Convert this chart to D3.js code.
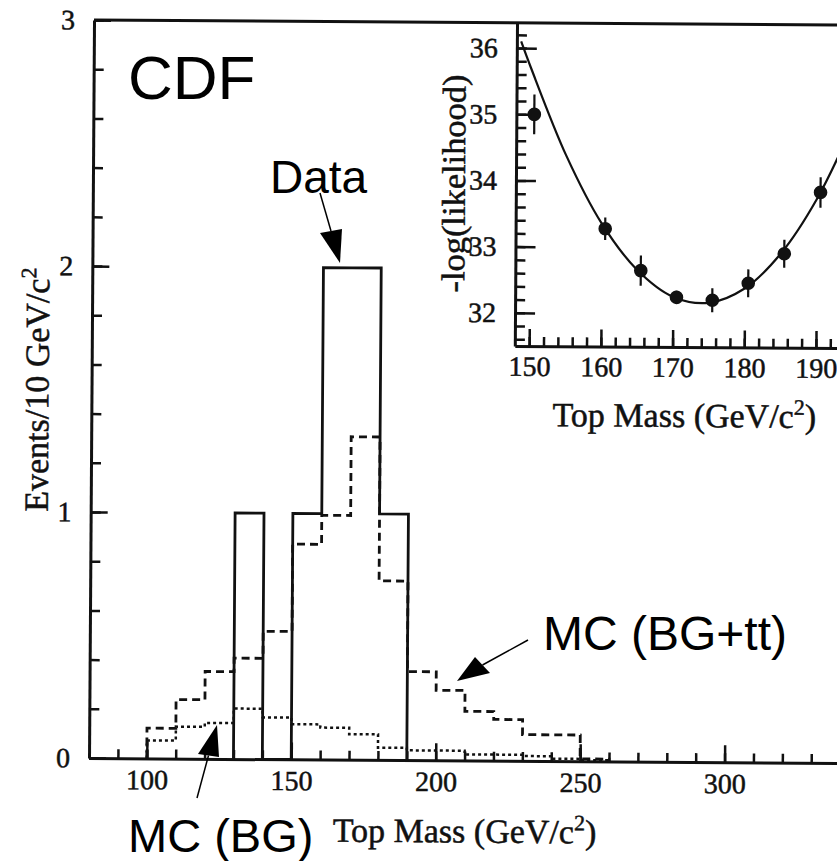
<!DOCTYPE html>
<html lang="en">
<head>
<meta charset="UTF-8">
<title>CDF Top Mass</title>
<script src="https://d3js.org/d3.v7.min.js"></script>
<style>
  body { margin: 0; background: #fff; }
  svg { display: block; }
  .scan text { stroke: #111; stroke-width: 0.5px; }
</style>
</head>
<body>
<div id="chart"></div>
<script>
// main histogram, 10 GeV/c^2 bins (lower bin edges)
const mcBins  = [100, 110, 120, 130, 140, 150, 160, 170, 180, 190, 200, 210, 220, 230, 240, 250];
const mcTotal = [0.123, 0.24, 0.355, 0.41, 0.52, 0.875, 0.993, 1.313, 0.728, 0.36, 0.285, 0.2, 0.168, 0.107, 0.107, 0.01];
const mcBG    = [0.073, 0.13, 0.146, 0.205, 0.17, 0.143, 0.13, 0.104, 0.05, 0.04, 0.04, 0.025, 0.025, 0.02, 0.01, 0.005];
const dataBins   = [130, 140, 150, 160, 170, 180];
const dataCounts = [1, 0, 1, 2, 2, 1];
const mainXTicks = [100, 150, 200, 250, 300];
const mainYTicks = [0, 1, 2, 3];

// inset: -log(likelihood) vs top mass
const insetMass = [150.5, 160.5, 165.5, 170.5, 175.5, 180.5, 185.5, 190.5];
const insetNll  = [35.0, 33.28, 32.65, 32.25, 32.21, 32.47, 32.92, 33.85];
const insetErr  = [0.3, 0.17, 0.23, 0.1, 0.18, 0.21, 0.21, 0.23];
const fitMass = [148.6, 150, 155, 160, 165, 170, 175, 180, 185, 190, 195];
const fitNll  = [36.1, 35.7, 34.38, 33.36, 32.66, 32.26, 32.17, 32.39, 32.92, 33.75, 34.89];
const insetXTicks = [150, 160, 170, 180, 190];
const insetYTicks = [32, 33, 34, 35, 36];

const W = 837, H = 861;
const serif = "'Liberation Serif', 'DejaVu Serif', serif";
const sans = "'Liberation Sans', Arial, sans-serif";
const ink = "#111";

const svg = d3.select("#chart").append("svg")
    .attr("width", W)
    .attr("height", H);

// the scanned plot sits slightly rotated
const plot = svg.append("g")
    .attr("class", "scan")
    .attr("transform", "rotate(0.39, 89, 758)");

// scales
const x = d3.scaleLinear().domain([80, 350]).range([89, 869]);
const y = d3.scaleLinear().domain([0, 3]).range([758, 20]);

// top frame line
plot.append("line")
    .attr("x1", x(80)).attr("x2", x(350))
    .attr("y1", y(3)).attr("y2", y(3))
    .attr("stroke", ink).attr("stroke-width", 3);

function styleAxis(g) {
    g.select(".domain").attr("stroke", ink).attr("stroke-width", 3);
    g.selectAll(".tick line").attr("stroke", ink).attr("stroke-width", 2.5);
}

// x axis: minor then major ticks, pointing inward
plot.append("g")
    .attr("transform", "translate(0," + y(0) + ")")
    .call(d3.axisBottom(x).tickValues(d3.range(90, 350, 10)).tickSize(-9).tickSizeOuter(0).tickFormat(""))
    .call(styleAxis);

plot.append("g")
    .attr("transform", "translate(0," + y(0) + ")")
    .call(d3.axisBottom(x).tickValues(mainXTicks).tickSize(-17).tickSizeOuter(0).tickPadding(11).tickFormat(d3.format("d")))
    .call(styleAxis)
    .call(g => g.select(".domain").remove())
    .attr("font-family", serif).attr("font-size", 28)
    .call(g => g.selectAll("text").attr("fill", ink));

// y axis
plot.append("g")
    .attr("transform", "translate(" + x(80) + ",0)")
    .call(d3.axisLeft(y).tickValues(d3.range(0, 3.01, 0.2)).tickSize(-10).tickSizeOuter(0).tickFormat(""))
    .call(styleAxis);

plot.append("g")
    .attr("transform", "translate(" + x(80) + ",0)")
    .call(d3.axisLeft(y).tickValues(mainYTicks).tickSize(-17).tickSizeOuter(0).tickPadding(19).tickFormat(d3.format("d")))
    .call(styleAxis)
    .call(g => g.select(".domain").remove())
    .attr("font-family", serif).attr("font-size", 28)
    .call(g => g.selectAll("text").attr("fill", ink));

// axis titles
const xTitle = plot.append("text")
    .attr("x", 465).attr("y", 840)
    .attr("text-anchor", "middle")
    .attr("font-family", serif).attr("font-size", 34).attr("fill", ink);
xTitle.append("tspan").text("Top Mass (GeV/c");
xTitle.append("tspan").attr("dy", -13).attr("font-size", 22).text("2");
xTitle.append("tspan").attr("dy", 13).text(")");

const yTitle = plot.append("text")
    .attr("transform", "translate(46,390) rotate(-90)")
    .attr("text-anchor", "middle")
    .attr("font-family", serif).attr("font-size", 34).attr("fill", ink);
yTitle.append("tspan").text("Events/10 GeV/c");
yTitle.append("tspan").attr("dy", -13).attr("font-size", 22).text("2");

// histograms as step outlines
const step = d3.line()
    .x(d => x(d[0]))
    .y(d => y(d[1]))
    .curve(d3.curveStepAfter);

function outline(bins, vals) {
    const pts = [[bins[0], 0]];
    bins.forEach((b, i) => pts.push([b, vals[i]]));
    pts.push([bins[bins.length - 1] + 10, 0]);
    return pts;
}

plot.append("path")
    .attr("d", step(outline(mcBins, mcBG)))
    .attr("fill", "none").attr("stroke", ink)
    .attr("stroke-width", 2.5).attr("stroke-dasharray", "3,3");

plot.append("path")
    .attr("d", step(outline(mcBins, mcTotal)))
    .attr("fill", "none").attr("stroke", ink)
    .attr("stroke-width", 2.8).attr("stroke-dasharray", "8,5");

plot.append("path")
    .attr("d", step(outline(dataBins, dataCounts)))
    .attr("fill", "none").attr("stroke", ink)
    .attr("stroke-width", 2.8);

// ---- inset ----
const ix = d3.scaleLinear().domain([148, 200]).range([512, 884.8]);
const iy = d3.scaleLinear().domain([31.5, 36.38]).range([343, 20]);

const inset = plot.append("g");

inset.append("g")
    .attr("transform", "translate(0," + iy(31.5) + ")")
    .call(d3.axisBottom(ix).tickValues(d3.range(150, 200, 2)).tickSize(-9).tickSizeOuter(0).tickFormat(""))
    .call(styleAxis);

inset.append("g")
    .attr("transform", "translate(0," + iy(31.5) + ")")
    .call(d3.axisBottom(ix).tickValues(insetXTicks).tickSize(-17).tickSizeOuter(0).tickPadding(10).tickFormat(d3.format("d")))
    .call(styleAxis)
    .call(g => g.select(".domain").remove())
    .attr("font-family", serif).attr("font-size", 28)
    .call(g => g.selectAll("text").attr("fill", ink));

inset.append("g")
    .attr("transform", "translate(" + ix(148) + ",0)")
    .call(d3.axisLeft(iy).tickValues(d3.range(31.6, 36.3, 0.2)).tickSize(-10).tickSizeOuter(0).tickFormat(""))
    .call(styleAxis);

inset.append("g")
    .attr("transform", "translate(" + ix(148) + ",0)")
    .call(d3.axisLeft(iy).tickValues(insetYTicks).tickSize(-20).tickSizeOuter(0).tickPadding(19).tickFormat(d3.format("d")))
    .call(styleAxis)
    .call(g => g.select(".domain").remove())
    .attr("font-family", serif).attr("font-size", 28)
    .call(g => g.selectAll("text").attr("fill", ink));

// fitted curve
inset.append("path")
    .attr("d", d3.line().x(d => ix(d[0])).y(d => iy(d[1])).curve(d3.curveCatmullRom)(fitMass.map((m, i) => [m, fitNll[i]])))
    .attr("fill", "none").attr("stroke", ink).attr("stroke-width", 2.2);

// points with error bars
const pts = inset.selectAll(".pt")
    .data(insetMass.map((m, i) => ({ m: m, v: insetNll[i], e: insetErr[i] })))
    .enter().append("g").attr("class", "pt");

pts.append("line")
    .attr("x1", d => ix(d.m)).attr("x2", d => ix(d.m))
    .attr("y1", d => iy(d.v - d.e)).attr("y2", d => iy(d.v + d.e))
    .attr("stroke", ink).attr("stroke-width", 2.2);

pts.append("circle")
    .attr("cx", d => ix(d.m)).attr("cy", d => iy(d.v))
    .attr("r", 6.8).attr("fill", ink);

const ixTitle = inset.append("text")
    .attr("x", 682).attr("y", 423)
    .attr("text-anchor", "middle")
    .attr("font-family", serif).attr("font-size", 34).attr("fill", ink);
ixTitle.append("tspan").text("Top Mass (GeV/c");
ixTitle.append("tspan").attr("dy", -13).attr("font-size", 22).text("2");
ixTitle.append("tspan").attr("dy", 13).text(")");

// the scanned inset label is narrow: squeeze it to its printed length
inset.append("text")
    .attr("transform", "translate(461,290) rotate(-90)")
    .attr("text-anchor", "start")
    .attr("textLength", 218).attr("lengthAdjust", "spacingAndGlyphs")
    .attr("font-family", serif).attr("font-size", 33).attr("fill", ink)
    .text("-log(likelihood)");

// ---- annotations (added on top of the scan) ----
const notes = svg.append("g");

notes.append("text").attr("x", 128).attr("y", 99)
    .attr("font-family", sans).attr("font-size", 62).text("CDF");
notes.append("text").attr("x", 270).attr("y", 193)
    .attr("font-family", sans).attr("font-size", 46).text("Data");
notes.append("text").attr("x", 543).attr("y", 650)
    .attr("font-family", sans).attr("font-size", 48).text("MC (BG+tt)");
notes.append("text").attr("x", 128).attr("y", 852)
    .attr("font-family", sans).attr("font-size", 47).text("MC (BG)");

function arrow(from, tip, a, b) {
    const base = [(a[0] + b[0]) / 2, (a[1] + b[1]) / 2];
    notes.append("line")
        .attr("x1", from[0]).attr("y1", from[1])
        .attr("x2", base[0]).attr("y2", base[1])
        .attr("stroke", "#000").attr("stroke-width", 1.5);
    notes.append("path")
        .attr("d", "M" + a + "L" + tip + "L" + b + "Z")
        .attr("fill", "#000");
}

arrow([320, 193], [340, 263], [320, 233], [342, 229]);
arrow([197, 798], [217, 725], [198, 754], [219, 757]);
arrow([528, 640], [457, 681], [475, 657], [490, 673]);
</script>
</body>
</html>
